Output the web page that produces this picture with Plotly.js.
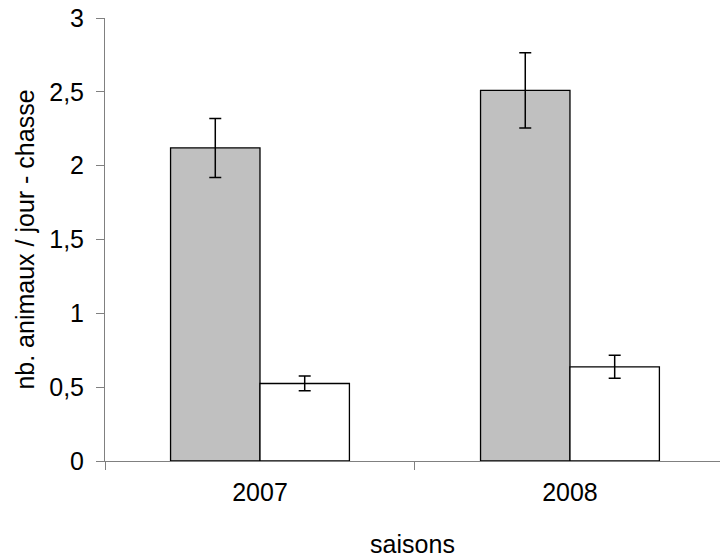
<!DOCTYPE html>
<html>
<head>
<meta charset="utf-8">
<script src="https://cdn.plot.ly/plotly-3.0.1.min.js"></script>
<style>html,body{margin:0;padding:0;background:#fff;}#chart{width:720px;height:558px;}</style>
</head>
<body>
<div id="chart"></div>
<script>
var seasons = ["2007", "2008"];
var greyValues = [2.12, 2.51];
var greyErrors = [0.20, 0.255];
var whiteValues = [0.525, 0.638];
var whiteErrors = [0.05, 0.078];
var yTickVals = [0, 0.5, 1, 1.5, 2, 2.5, 3];

var font = {family: "Liberation Sans, Arial, sans-serif", size: 25, color: "#000"};

var traces = [
  {
    type: "bar", x: seasons, y: greyValues, name: "A",
    marker: {color: "#C0C0C0", line: {color: "#000", width: 1.3}},
    error_y: {type: "data", array: greyErrors, visible: true, color: "#000", thickness: 1.5, width: 6}
  },
  {
    type: "bar", x: seasons, y: whiteValues, name: "B",
    marker: {color: "#FFFFFF", line: {color: "#000", width: 1.3}},
    error_y: {type: "data", array: whiteErrors, visible: true, color: "#000", thickness: 1.5, width: 6}
  }
];

var layout = {
  width: 720, height: 558,
  margin: {l: 105, r: 0, t: 18, b: 97, pad: 0},
  paper_bgcolor: "#fff", plot_bgcolor: "#fff",
  separators: ", ",
  showlegend: false,
  barmode: "group", bargap: 0.423, bargroupgap: 0,
  font: font,
  xaxis: {
    type: "category", range: [-0.5, 1.484],
    tickson: "boundaries", ticks: "outside", ticklen: 8, tickcolor: "#808080", tickwidth: 1,
    ticklabelstandoff: 9,
    showline: true, linecolor: "#808080", linewidth: 1.3,
    showgrid: false, zeroline: false, tickfont: font,
    title: {text: "saisons", font: font, standoff: 31}
  },
  yaxis: {
    range: [0, 3], tickvals: yTickVals, tickformat: ".1~f",
    ticks: "outside", ticklen: 8, tickcolor: "#808080", tickwidth: 1,
    ticklabelstandoff: 7,
    showline: true, linecolor: "#808080", linewidth: 1,
    showgrid: false, zeroline: false, tickfont: font,
    title: {text: "nb. animaux / jour - chasse", font: font, standoff: 7}
  }
};

Plotly.newPlot("chart", traces, layout, {staticPlot: true, displayModeBar: false});
</script>
</body>
</html>
